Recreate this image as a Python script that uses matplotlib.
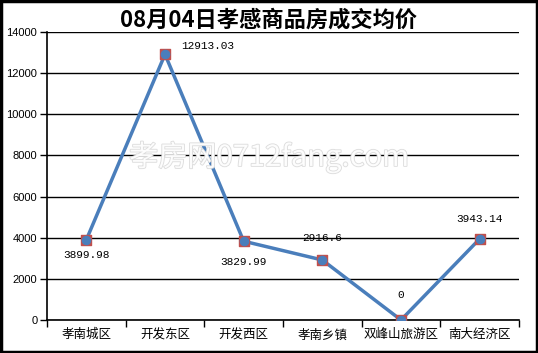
import matplotlib.pyplot as plt
import matplotlib.patheffects as pe
from matplotlib.patches import Rectangle

plt.rcParams['font.family'] = ['Noto Sans CJK SC', 'DejaVu Sans']

# 数据
districts = ['孝南城区', '开发东区', '开发西区', '孝南乡镇', '双峰山旅游区', '南大经济区']
prices = [3899.98, 12913.03, 3829.99, 2916.6, 0, 3943.14]
labels = ['3899.98', '12913.03', '3829.99', '2916.6', '0', '3943.14']
# 标注位置 (x偏移, y偏移 单位: 点)
offsets = [(0, -11), (31, 6), (0, -15), (0, 16), (0, 18), (0, 14)]

fig = plt.figure(figsize=(5.38, 3.53), dpi=100)
ax = fig.add_axes([47/538, 1-320/353, 472/538, 288/353])

x = list(range(len(districts)))
ax.plot(x, prices, color='#4a7ebb', lw=2.5, zorder=3)
# 红色方块 + 蓝色圆点
ax.scatter(x, prices, marker='s', s=60, color='#c0504d', zorder=4)
ax.scatter(x, prices, marker='o', s=35, color='#4a7ebb', zorder=5)

for xi, yi, t, off in zip(x, prices, labels, offsets):
    ax.annotate(t, (xi, yi), xytext=off, textcoords='offset points',
                ha='center', va='center', fontsize=8, family=['Liberation Mono'])

ax.set_xlim(-0.5, len(districts) - 0.5)
ax.set_ylim(0, 14000)
ax.set_yticks(range(0, 14001, 2000))
ax.set_yticklabels([str(v) for v in range(0, 14001, 2000)], family=['Liberation Sans'])
ax.tick_params(axis='y', labelsize=8, length=5, width=1, pad=2, direction='out')
ax.yaxis.grid(True, color='black', lw=1)
ax.set_axisbelow(True)

# 类别刻度在区间边界上
ax.set_xticks([i - 0.5 for i in range(len(districts) + 1)])
ax.set_xticklabels([])
ax.set_xticks(x, minor=True)
ax.set_xticklabels(districts, minor=True, fontsize=9)
ax.tick_params(axis='x', which='minor', length=0, pad=6)
ax.tick_params(axis='x', which='major', length=5, width=1)

for s in ['top', 'right']:
    ax.spines[s].set_visible(False)
ax.spines['left'].set_linewidth(1.2)
ax.spines['bottom'].set_linewidth(1.2)

# 水印
wm = fig.text(0.5, 0.555, '孝房网0712fang.com', fontsize=21, color='white',
              ha='center', va='center', zorder=2, alpha=0.9)
wm.set_path_effects([pe.withStroke(linewidth=1.2, foreground='#d8d8d8')])

fig.suptitle('08月04日孝感商品房成交均价', x=0.5, y=0.975, fontsize=16, fontweight='bold')

# 外边框
fig.patches.append(Rectangle((0.002, 0.003), 0.996, 0.994, transform=fig.transFigure,
                             fill=False, edgecolor='black', lw=2.5))

fig.savefig('out.png', dpi=100)
